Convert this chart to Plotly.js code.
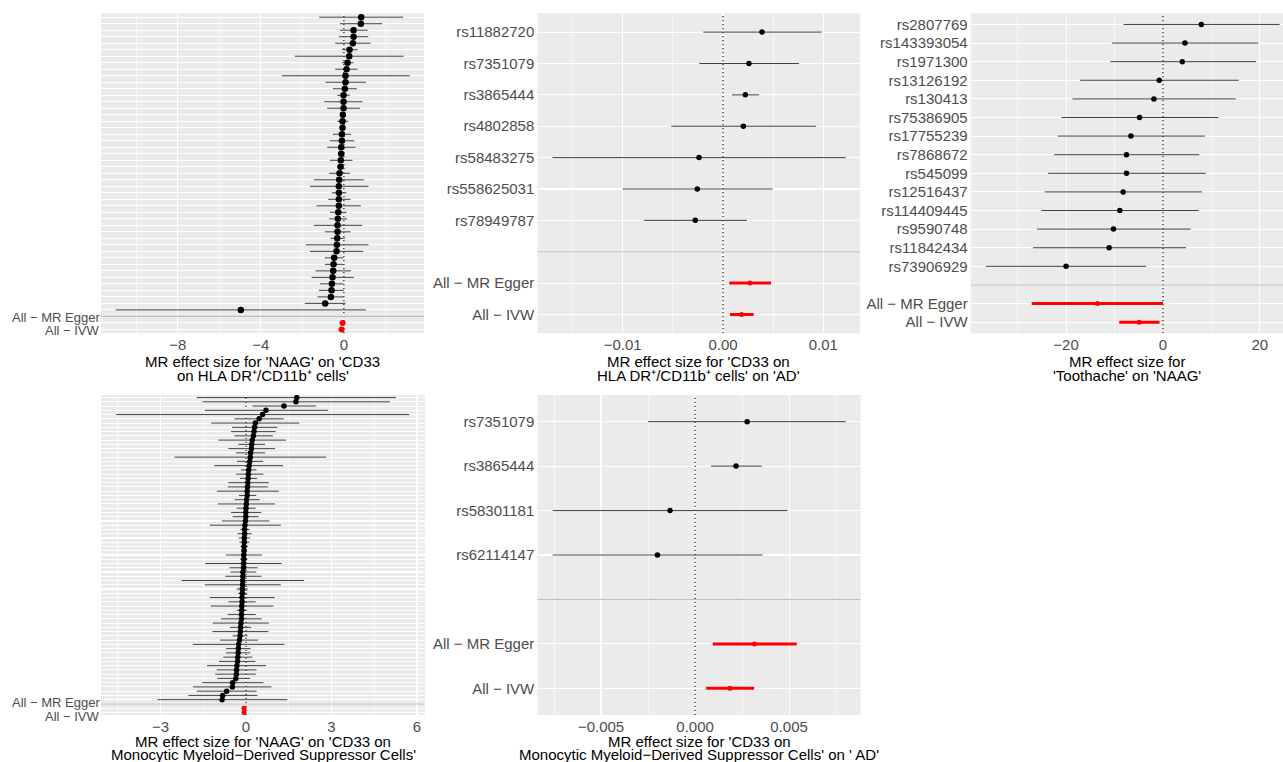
<!DOCTYPE html>
<html><head><meta charset="utf-8">
<script src="https://cdn.plot.ly/plotly-3.0.1.min.js"></script>
<style>html,body{margin:0;padding:0;background:#fff}#chart{width:1283px;height:762px}</style>
</head><body><div id="chart"></div>
<script>
// ---------- Panel A: 'NAAG' on 'CD33 on HLA DR+/CD11b+ cells' (SNP rows, top to bottom) ----------
const aB  = [0.835, 0.819, 0.466, 0.466, 0.434, 0.273, 0.257, 0.177, 0.129, 0.080, 0.080, 0.048, -0.016, -0.016, -0.016, -0.048, -0.064, -0.064, -0.096, -0.096, -0.129, -0.129, -0.145, -0.161, -0.209, -0.225, -0.241, -0.241, -0.241, -0.241, -0.273, -0.289, -0.305, -0.305, -0.321, -0.337, -0.353, -0.466, -0.498, -0.514, -0.546, -0.578, -0.594, -0.627, -0.900, -4.964];
const aLo = [-1.189, -0.193, -0.193, -0.241, -0.418, -0.096, -2.361, -0.096, -0.418, -2.988, -0.884, -0.530, -0.321, -0.948, -0.803, -0.161, -0.321, -0.193, -0.530, -0.675, -0.803, -0.289, -0.675, -0.321, -0.707, -1.430, -1.639, -0.578, -0.755, -1.317, -0.675, -0.707, -1.446, -0.916, -0.643, -1.831, -1.639, -0.916, -0.916, -1.365, -1.558, -1.157, -1.205, -1.269, -1.880, -10.988];
const aHi = [2.859, 1.847, 1.141, 1.173, 1.285, 0.659, 2.875, 0.466, 0.659, 3.165, 1.060, 0.627, 0.289, 0.900, 0.771, 0.064, 0.209, 0.064, 0.353, 0.498, 0.562, 0.032, 0.418, 0.000, 0.289, 0.964, 1.189, 0.129, 0.321, 0.819, 0.129, 0.161, 0.884, 0.321, 0.048, 1.189, 0.932, -0.032, -0.032, 0.337, 0.482, -0.032, 0.000, 0.000, 0.080, 1.060];
const aSumB  = [-0.064, -0.112];
const aSumLo = [-0.160, -0.180];
const aSumHi = [0.030, -0.050];

// ---------- Panel B: 'CD33 on HLA DR+/CD11b+ cells' on 'AD' ----------
const bSNP = ["rs11882720", "rs7351079", "rs3865444", "rs4802858", "rs58483275", "rs558625031", "rs78949787"];
const bB   = [0.00389, 0.00259, 0.00223, 0.00203, -0.00239, -0.00256, -0.00276];
const bLo  = [-0.00196, -0.00236, 0.00090, -0.00515, -0.01700, -0.01000, -0.00788];
const bHi  = [0.00984, 0.00758, 0.00359, 0.00927, 0.01223, 0.00495, 0.00239];
const bSumB  = [0.00269, 0.00186];
const bSumLo = [0.00063, 0.00070];
const bSumHi = [0.00479, 0.00306];

// ---------- Panel C: 'Toothache' on 'NAAG' ----------
const cSNP = ["rs2807769", "rs143393054", "rs1971300", "rs13126192", "rs130413", "rs75386905", "rs17755239", "rs7868672", "rs545099", "rs12516437", "rs114409445", "rs9590748", "rs11842434", "rs73906929"];
const cB   = [7.93, 4.55, 4.00, -0.76, -1.86, -4.83, -6.62, -7.52, -7.52, -8.21, -8.90, -10.21, -11.10, -20.00];
const cLo  = [-8.14, -10.55, -10.90, -17.10, -18.69, -20.97, -21.72, -22.48, -23.72, -24.41, -25.10, -26.00, -26.83, -36.55];
const cHi  = [24.10, 19.66, 19.24, 15.66, 15.03, 11.45, 8.69, 7.52, 8.83, 8.07, 7.38, 5.72, 4.76, -3.45];
const cSumB  = [-13.52, -4.90];
const cSumLo = [-27.10, -9.03];
const cSumHi = [0.00, -0.69];

// ---------- Panel D: 'NAAG' on 'CD33 on Monocytic Myeloid-Derived Suppressor Cells' ----------
const dB  = [1.78, 1.75, 1.33, 0.70, 0.58, 0.46, 0.33, 0.30, 0.28, 0.26, 0.22, 0.20, 0.19, 0.16, 0.15, 0.13, 0.11, 0.09, 0.08, 0.07, 0.06, 0.05, 0.04, 0.04, 0.02, 0.01, 0.00, -0.01, -0.01, -0.02, -0.04, -0.05, -0.05, -0.06, -0.06, -0.07, -0.07, -0.08, -0.08, -0.09, -0.09, -0.11, -0.11, -0.12, -0.12, -0.13, -0.13, -0.14, -0.14, -0.15, -0.15, -0.16, -0.16, -0.18, -0.19, -0.20, -0.21, -0.23, -0.26, -0.27, -0.28, -0.29, -0.30, -0.32, -0.33, -0.34, -0.36, -0.47, -0.48, -0.68, -0.82, -0.84];
const dLo = [-1.73, -1.53, 0.22, -1.45, -4.56, -0.41, -1.22, -0.49, -0.53, -0.41, -0.97, -0.27, -0.62, -0.35, -2.51, -0.32, -1.11, -0.18, -0.35, -0.21, -0.62, -0.64, -1.02, -0.25, -0.40, -0.99, -0.33, -0.53, -0.47, -0.85, -1.27, -0.20, -0.30, -0.26, -0.23, -0.19, -0.15, -0.71, -0.21, -1.43, -0.58, -0.55, -0.73, -2.26, -1.45, -0.33, -0.28, -1.27, -0.62, -1.24, -0.33, -0.65, -0.88, -1.17, -0.56, -1.18, -0.47, -0.91, -1.87, -0.70, -0.71, -0.80, -0.95, -1.37, -1.03, -1.08, -1.01, -1.54, -1.86, -1.73, -2.02, -3.11];
const dHi = [5.26, 5.05, 2.46, 2.87, 5.73, 1.32, 1.87, 1.10, 1.04, 0.94, 1.40, 0.67, 1.02, 0.67, 2.82, 0.60, 1.30, 0.37, 0.61, 0.39, 0.80, 0.77, 1.15, 0.36, 0.48, 1.02, 0.34, 0.53, 0.44, 0.82, 1.22, 0.12, 0.20, 0.15, 0.12, 0.07, 0.04, 0.56, 0.05, 1.25, 0.41, 0.36, 0.54, 2.04, 1.22, 0.07, 0.04, 1.01, 0.34, 0.96, 0.02, 0.34, 0.55, 0.80, 0.18, 0.78, 0.05, 0.42, 1.35, 0.16, 0.15, 0.22, 0.33, 0.70, 0.37, 0.35, 0.15, 0.61, 0.89, 0.37, 0.40, 1.45];
const dSumB  = [-0.07, -0.07];
const dSumLo = [-0.13, -0.12];
const dSumHi = [0.00, -0.01];

// ---------- Panel E: 'CD33 on Monocytic Myeloid-Derived Suppressor Cells' on ' AD' ----------
const eSNP = ["rs7351079", "rs3865444", "rs58301181", "rs62114147"];
const eB   = [0.00277, 0.00218, -0.00133, -0.00200];
const eLo  = [-0.00250, 0.00085, -0.00757, -0.00757];
const eHi  = [0.00801, 0.00355, 0.00491, 0.00358];
const eSumB  = [0.00316, 0.00186];
const eSumLo = [0.00094, 0.00059];
const eSumHi = [0.00541, 0.00314];

const summaryLabels = ["All \u2212 MR Egger", "All \u2212 IVW"];

// ---------- layout helpers ----------
const W = 1283, H = 762;
const FONT = 'Liberation Sans, Arial, Helvetica, sans-serif';
const TICKCOL = '#4D4D4D';

const panels = [
  {snp: null, b: aB, lo: aLo, hi: aHi, sb: aSumB, slo: aSumLo, shi: aSumHi,
   box: [101, 424, 13.3, 333.3], range: [-11.7, 3.86], dtick: 4, minor: 2, fmt: '',
   title: ["MR effect size for 'NAAG' on 'CD33", "on HLA DR\u207A/CD11b\u207A cells'"], titleY: [361.5, 375],
   ms: 6.5, labShift: [5.5, -1]},
  {snp: bSNP, b: bB, lo: bLo, hi: bHi, sb: bSumB, slo: bSumLo, shi: bSumHi,
   box: [537.3, 860, 13.3, 333.3], range: [-0.01851, 0.01366], dtick: 0.01, minor: 0.005, fmt: '.2f',
   title: ["MR effect size for 'CD33 on", "HLA DR\u207A/CD11b\u207A cells' on 'AD'"], titleY: [361.5, 376],
   ms: 5.5},
  {snp: cSNP, b: cB, lo: cLo, hi: cHi, sb: cSumB, slo: cSumLo, shi: cSumHi,
   box: [970.7, 1283, 13.3, 333.3], range: [-39.7, 24.8], dtick: 20, minor: 10, fmt: '',
   title: ["MR effect size for", "'Toothache' on 'NAAG'"], titleY: [361.5, 376],
   ms: 5.5},
  {snp: null, b: dB, lo: dLo, hi: dHi, sb: dSumB, slo: dSumLo, shi: dSumHi,
   box: [101, 425, 395, 715], range: [-5.09, 6.28], dtick: 3, minor: 1.5, fmt: '',
   title: ["MR effect size for 'NAAG' on 'CD33 on", "Monocytic Myeloid\u2212Derived Suppressor Cells'"], titleY: [741, 754],
   ms: 5.5, labShift: [5.5, -4.5]},
  {snp: eSNP, b: eB, lo: eLo, hi: eHi, sb: eSumB, slo: eSumLo, shi: eSumHi,
   box: [537.3, 860.7, 395, 715], range: [-0.00839, 0.00881], dtick: 0.005, minor: 0.0025, fmt: '.3f',
   title: ["MR effect size for 'CD33 on", "Monocytic Myeloid\u2212Derived Suppressor Cells' on ' AD'"], titleY: [741, 754],
   ms: 5.5}
];

const data = [];
const layout = {
  width: W, height: H,
  margin: {l: 0, r: 0, t: 0, b: 0},
  paper_bgcolor: '#FFFFFF',
  plot_bgcolor: '#EBEBEB',
  showlegend: false,
  font: {family: FONT, size: 15, color: TICKCOL},
  annotations: []
};

panels.forEach((p, i) => {
  const s = i === 0 ? '' : String(i + 1);
  const xa = 'x' + s, ya = 'y' + s;
  const nS = p.b.length, nSum = p.sb.length;
  const n = nS + 1 + nSum;
  const yS = p.b.map((_, j) => n - 1 - j);
  const yDiv = nSum;
  const ySum = p.sb.map((_, k) => nSum - 1 - k);
  const yr = [-0.6, n - 0.4];

  // dotted reference line at x = 0 (drawn first, under the marks)
  data.push({type: 'scatter', mode: 'lines', x: [0, 0], y: yr, xaxis: xa, yaxis: ya,
    line: {color: '#000000', width: 1.1, dash: '1.2px,2.8px'}, hoverinfo: 'skip'});
  // grey separator at the empty row
  data.push({type: 'scatter', mode: 'lines', x: p.range, y: [yDiv, yDiv], xaxis: xa, yaxis: ya,
    line: {color: '#BEBEBE', width: 1.1}, hoverinfo: 'skip'});

  data.push({
    type: 'scatter', mode: 'markers', x: p.b, y: yS, xaxis: xa, yaxis: ya,
    marker: {color: '#000000', size: p.ms},
    error_x: {type: 'data', symmetric: false,
      array: p.hi.map((h, j) => h - p.b[j]), arrayminus: p.b.map((v, j) => v - p.lo[j]),
      color: '#444444', thickness: 1, width: 0},
    hoverinfo: 'x'
  });
  data.push({
    type: 'scatter', mode: 'markers', x: p.sb, y: ySum, xaxis: xa, yaxis: ya,
    marker: {color: '#FF0000', size: p.ms - 0.5},
    error_x: {type: 'data', symmetric: false,
      array: p.shi.map((h, k) => h - p.sb[k]), arrayminus: p.sb.map((v, k) => v - p.slo[k]),
      color: '#FF0000', thickness: 3, width: 0},
    hoverinfo: 'x'
  });

  const tickvals = [], ticktext = [];
  for (let r = 0; r < n; r++) {
    tickvals.push(r);
    let t = '';
    if (p.snp) {
      const idx = n - 1 - r;
      if (idx < nS) t = p.snp[idx];
      else if (idx > nS) t = summaryLabels[idx - nS - 1];
    }
    ticktext.push(t);
  }

  const xd = [p.box[0] / W, Math.min(1, p.box[1] / W)];
  const yd = [1 - p.box[3] / H, 1 - p.box[2] / H];
  layout['xaxis' + s] = {
    domain: xd, anchor: ya, range: p.range, tick0: 0, dtick: p.dtick, tickformat: p.fmt,
    showgrid: true, gridcolor: '#FFFFFF', gridwidth: 1.1, zeroline: false, showline: false,
    ticks: '', tickfont: {family: FONT, size: 15, color: TICKCOL}, ticklabelstandoff: 1,
    minor: {tick0: 0, dtick: p.minor, showgrid: true, gridcolor: '#FFFFFF', gridwidth: 0.55},
    fixedrange: true
  };
  layout['yaxis' + s] = {
    domain: yd, anchor: xa, range: yr, tickmode: 'array', tickvals: tickvals, ticktext: ticktext,
    showgrid: true, gridcolor: '#FFFFFF', gridwidth: 1.1, zeroline: false, showline: false,
    ticks: '', showticklabels: !!p.snp, tickfont: {family: FONT, size: 15, color: TICKCOL}, ticklabelstandoff: 2,
    fixedrange: true
  };

  // axis title (two lines)
  const cx = ((p.box[0] + p.box[1]) / 2) / W;
  p.title.forEach((t, k) => {
    layout.annotations.push({text: t, xref: 'paper', yref: 'paper', x: cx, y: 1 - p.titleY[k] / H,
      xanchor: 'center', yanchor: 'middle', showarrow: false,
      font: {family: FONT, size: 15, color: '#000000'}});
  });

  // summary labels for the dense panels
  if (!p.snp) {
    summaryLabels.forEach((t, k) => {
      layout.annotations.push({text: t, xref: 'paper', yref: ya, x: p.box[0] / W, y: ySum[k],
        xanchor: 'right', yanchor: 'middle', xshift: 1, yshift: p.labShift[k], showarrow: false,
        font: {family: FONT, size: 13, color: TICKCOL}});
    });
  }
});

Plotly.newPlot('chart', data, layout, {displayModeBar: false, staticPlot: true});
</script>
</body></html>
